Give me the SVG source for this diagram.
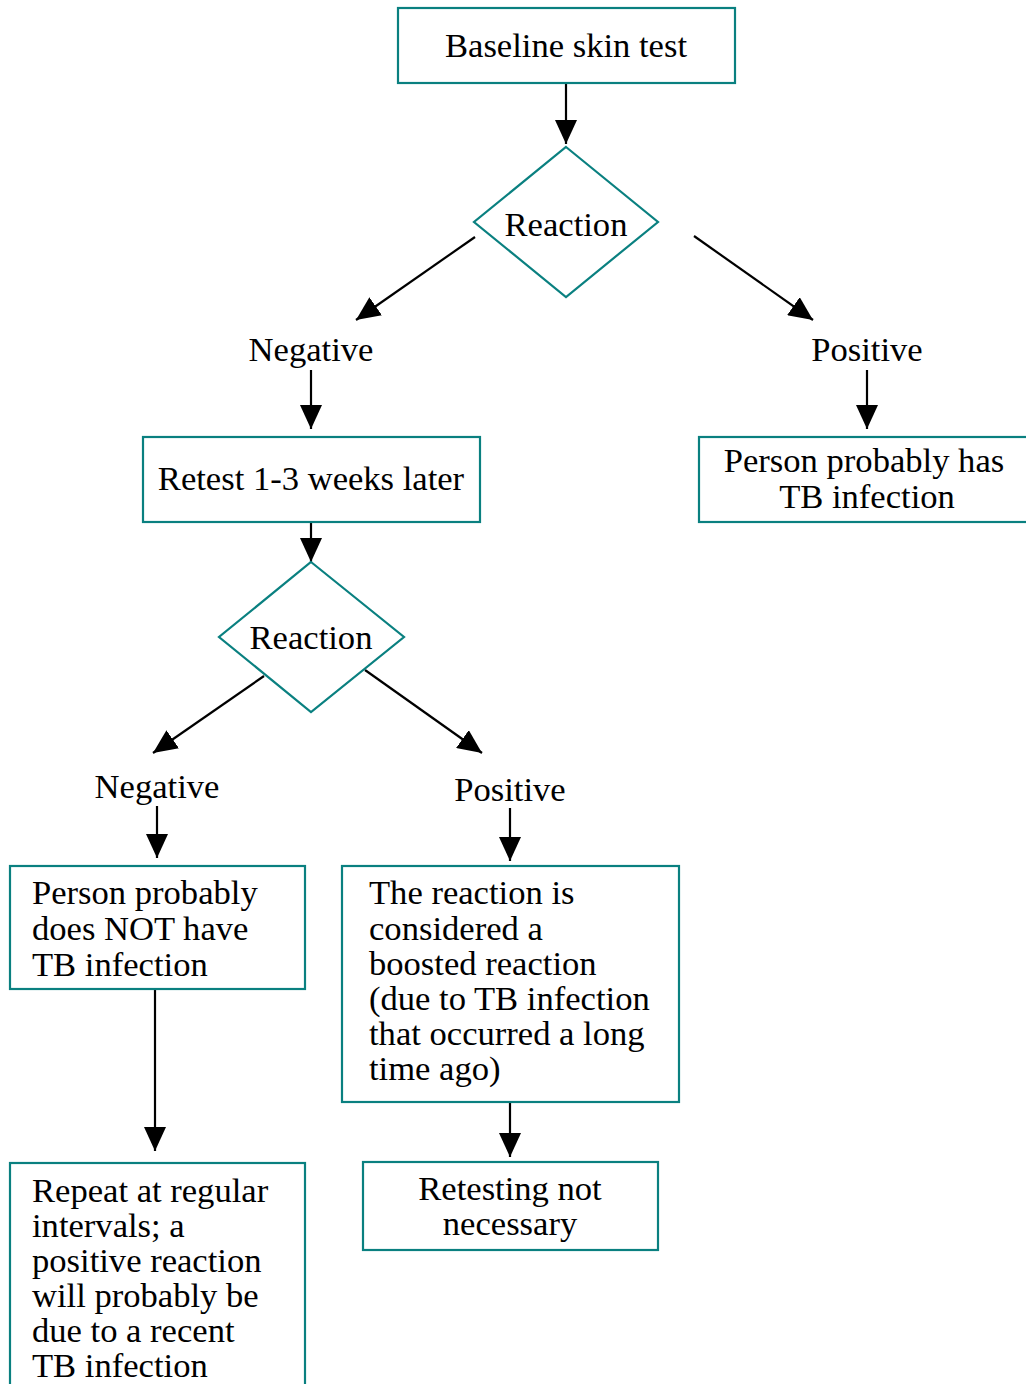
<svg xmlns="http://www.w3.org/2000/svg" width="1026" height="1384" viewBox="0 0 1026 1384">
<style>
.box{fill:#fff;stroke:#0a8080;stroke-width:2.2}
.t{font-family:"Liberation Serif","Times New Roman",serif;font-size:34.6px;fill:#000}
.c{text-anchor:middle}
.edge{stroke:#000;stroke-width:2.2;fill:none;marker-end:url(#ah)}
</style>
<defs>
<marker id="ah" markerUnits="userSpaceOnUse" markerWidth="24" markerHeight="22" refX="24" refY="11" orient="auto">
<path d="M0,0 L24,11 L0,22 z" fill="#000"/>
</marker>
</defs>
<rect width="1026" height="1384" fill="#fff"/>
<g id="connectors">
<line class="edge" x1="566" y1="83" x2="566" y2="144"/>
<line class="edge" x1="475" y1="237" x2="356" y2="320"/>
<line class="edge" x1="694" y1="236" x2="813" y2="320"/>
<line class="edge" x1="311" y1="370" x2="311" y2="429"/>
<line class="edge" x1="867" y1="370" x2="867" y2="429"/>
<line class="edge" x1="311" y1="522" x2="311" y2="562"/>
<line class="edge" x1="264" y1="676" x2="153" y2="753"/>
<line class="edge" x1="365" y1="670" x2="482" y2="753"/>
<line class="edge" x1="157" y1="806" x2="157" y2="858"/>
<line class="edge" x1="510" y1="808" x2="510" y2="861"/>
<line class="edge" x1="155" y1="989" x2="155" y2="1151"/>
<line class="edge" x1="510" y1="1102" x2="510" y2="1157"/>
</g>
<g id="n-baseline">
<rect class="box" x="398" y="8" width="337" height="75"/>
<text class="t c" x="566" y="57">Baseline skin test</text>
</g>
<g id="n-reaction1">
<polygon class="box" points="566,147 658,222 566,297 474,222"/>
<text class="t c" x="566" y="236">Reaction</text>
</g>
<g id="n-negative1">
<text class="t c" x="311" y="361">Negative</text>
</g>
<g id="n-positive1">
<text class="t c" x="867" y="361">Positive</text>
</g>
<g id="n-retest">
<rect class="box" x="143" y="437" width="337" height="85"/>
<text class="t c" x="311" y="490">Retest 1-3 weeks later</text>
</g>
<g id="n-has-tb">
<rect class="box" x="699" y="437" width="340" height="85"/>
<text class="t c" x="864" y="472">Person probably has</text>
<text class="t c" x="867" y="508">TB infection</text>
</g>
<g id="n-reaction2">
<polygon class="box" points="311,562 404,637 311,712 219,637"/>
<text class="t c" x="311" y="649">Reaction</text>
</g>
<g id="n-negative2">
<text class="t c" x="157" y="798">Negative</text>
</g>
<g id="n-positive2">
<text class="t c" x="510" y="801">Positive</text>
</g>
<g id="n-not-tb">
<rect class="box" x="10" y="866" width="295" height="123"/>
<text class="t" x="32" y="904">Person probably</text>
<text class="t" x="32" y="940">does NOT have</text>
<text class="t" x="32" y="976">TB infection</text>
</g>
<g id="n-boosted">
<rect class="box" x="342" y="866" width="337" height="236"/>
<text class="t" x="369" y="904">The reaction is</text>
<text class="t" x="369" y="940">considered a</text>
<text class="t" x="369" y="975">boosted reaction</text>
<text class="t" x="369" y="1010">(due to TB infection</text>
<text class="t" x="369" y="1045">that occurred a long</text>
<text class="t" x="369" y="1080">time ago)</text>
</g>
<g id="n-repeat">
<rect class="box" x="10" y="1163" width="295" height="240"/>
<text class="t" x="32" y="1202">Repeat at regular</text>
<text class="t" x="32" y="1237">intervals; a</text>
<text class="t" x="32" y="1272">positive reaction</text>
<text class="t" x="32" y="1307">will probably be</text>
<text class="t" x="32" y="1342">due to a recent</text>
<text class="t" x="32" y="1377">TB infection</text>
</g>
<g id="n-retesting">
<rect class="box" x="363" y="1162" width="295" height="88"/>
<text class="t c" x="510" y="1200">Retesting not</text>
<text class="t c" x="510" y="1235">necessary</text>
</g>
</svg>
